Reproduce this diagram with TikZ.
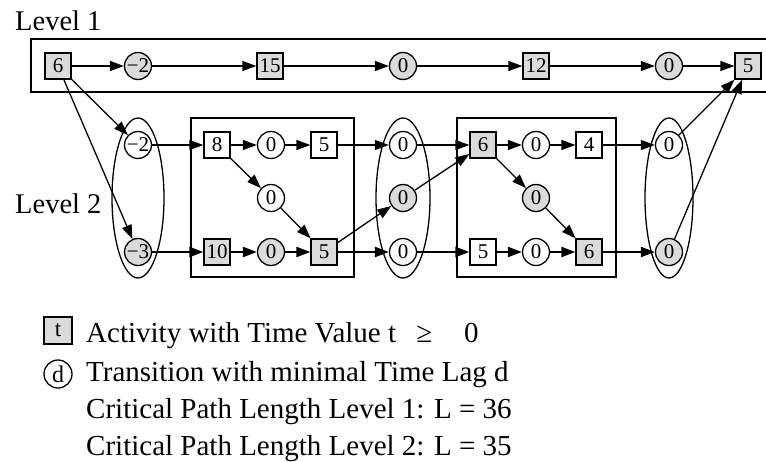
\documentclass[tikz,border=0pt]{standalone}
\usepackage{fontspec}
\setmainfont{Liberation Serif}
\usetikzlibrary{arrows.meta}
\begin{document}
\begin{tikzpicture}[x=1pt,y=-1pt,
  nd/.style={draw, line width=1.3pt, inner sep=0pt, font=\fontsize{21}{21}\selectfont},
  act/.style={nd, rectangle, minimum size=26pt},
  trans/.style={nd, circle, minimum size=27pt},
  gr/.style={fill=black!14},
  wh/.style={fill=white},
  arr/.style={-{Triangle[length=14pt,width=10pt]}, line width=1.3pt},
  crit/.style={arr, line width=2.3pt},
  frame/.style={line width=1.5pt},
  lbl/.style={anchor=base west, inner sep=0pt, font=\fontsize{28.5}{28.5}\selectfont},
  leg/.style={anchor=base west, inner sep=0pt, font=\fontsize{29}{29}\selectfont}]
\useasboundingbox (0,0) rectangle (766,461);

% labels
\node[lbl] (lev1) at (15,30) {Level 1};
\node[lbl] (lev2) at (15,213) {Level 2};

% frames
\draw[frame] (766,39) -- (31,39) -- (31,92) -- (766,92);
\draw[frame] (191,118) rectangle (354,277);
\draw[frame] (457,118) rectangle (616,277);
\draw[line width=1.3pt] (138,198) ellipse [x radius=26pt, y radius=80pt];
\draw[line width=1.3pt] (403,198) ellipse [x radius=27pt, y radius=80pt];
\draw[line width=1.3pt] (669,198) ellipse [x radius=24pt, y radius=80pt];

% level 1
\node[act,gr]   (a1) at (58,66)  {6};
\node[trans,gr] (a2) at (138,66) {−2};
\node[act,gr]   (a3) at (270,66) {15};
\node[trans,gr] (a4) at (403,66) {0};
\node[act,gr]   (a5) at (536,66) {12};
\node[trans,gr] (a6) at (669,66) {0};
\node[act,gr]   (a7) at (748,66) {5};

% level 2
\node[trans,wh] (l1) at (138,145) {−2};
\node[trans,gr] (l2) at (138,252) {−3};

\node[act,wh]   (b1) at (217,145) {8};
\node[trans,wh] (b2) at (271,145) {0};
\node[act,wh]   (b3) at (324,145) {5};
\node[trans,wh] (b4) at (271,198) {0};
\node[act,gr]   (b5) at (217,252) {10};
\node[trans,gr] (b6) at (271,252) {0};
\node[act,gr]   (b7) at (324,252) {5};

\node[trans,wh] (m1) at (403,145) {0};
\node[trans,gr] (m2) at (403,198) {0};
\node[trans,wh] (m3) at (403,252) {0};

\node[act,gr]   (c1) at (483,145) {6};
\node[trans,wh] (c2) at (536,145) {0};
\node[act,wh]   (c3) at (589,145) {4};
\node[trans,gr] (c4) at (536,198) {0};
\node[act,wh]   (c5) at (483,252) {5};
\node[trans,wh] (c6) at (536,252) {0};
\node[act,gr]   (c7) at (589,252) {6};

\node[trans,wh] (r1) at (669,145) {0};
\node[trans,gr] (r2) at (669,252) {0};

% edges level 1
\draw[arr] (a1) -- (a2);
\draw[arr] (a2) -- (a3);
\draw[arr] (a3) -- (a4);
\draw[arr] (a4) -- (a5);
\draw[arr] (a5) -- (a6);
\draw[arr] (a6) -- (a7);
\draw[arr] (a1) -- (l1);
\draw[arr] (a1) -- (l2);

% edges level 2
\draw[arr]  (l1) -- (b1);
\draw[crit] (l2) -- (b5);
\draw[arr]  (b1) -- (b2);
\draw[arr]  (b2) -- (b3);
\draw[arr]  (b3) -- (m1);
\draw[arr]  (b1) -- (b4);
\draw[arr]  (b4) -- (b7);
\draw[crit] (b5) -- (b6);
\draw[crit] (b6) -- (b7);
\draw[crit] (b7) -- (m3);
\draw[arr]  (b7) -- (m2);
\draw[arr]  (m1) -- (c1);
\draw[arr]  (m2) -- (c1);
\draw[crit] (m3) -- (c5);
\draw[arr]  (c1) -- (c2);
\draw[arr]  (c2) -- (c3);
\draw[arr]  (c3) -- (r1);
\draw[arr]  (c1) -- (c4);
\draw[arr]  (c4) -- (c7);
\draw[crit] (c5) -- (c6);
\draw[crit] (c6) -- (c7);
\draw[crit] (c7) -- (r2);
\draw[arr]  (r1) -- (a7);
\draw[arr]  (r2) -- (a7);

% legend
\node[act,gr,minimum width=28pt,minimum height=27pt,font=\fontsize{23}{23}\selectfont] (lt) at (58,330.5) {t};
\node[trans,wh,minimum size=28pt,font=\fontsize{24}{24}\selectfont] (ld) at (58,374) {d};
\node[leg] (tx1) at (86,342) {Activity with Time Value t\hspace{0.7em}≥\hspace{1.1em}0};
\node[leg] (tx2) at (86,381) {Transition with minimal Time Lag d};
\node[leg] (tx3) at (86,418) {Critical Path Length Level 1: L = 36};
\node[leg] (tx4) at (86,455) {Critical Path Length Level 2: L = 35};
\end{tikzpicture}
\end{document}
